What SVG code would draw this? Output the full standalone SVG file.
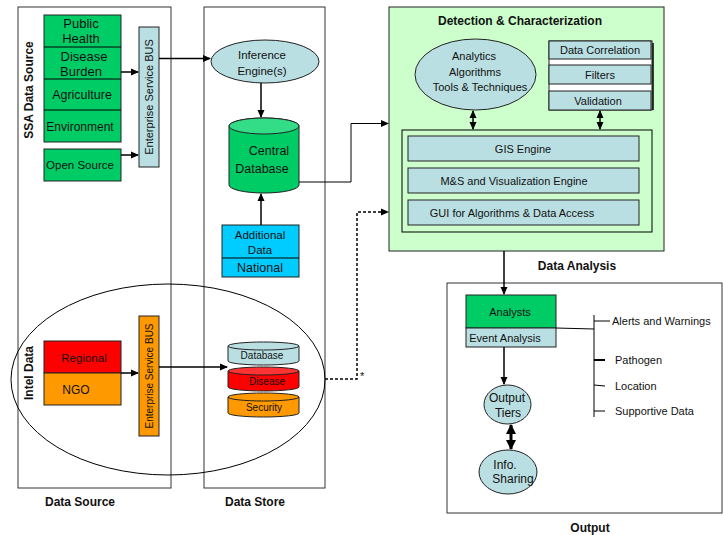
<svg xmlns="http://www.w3.org/2000/svg" width="723" height="535" viewBox="0 0 723 535">
  <style>
    text { font-family: "Liberation Sans", Arial, sans-serif; fill: #111; }
    .c { text-anchor: middle; }
    .b { font-weight: bold; }
    .frame { fill: none; stroke: #333; stroke-width: 1; }
    .box { stroke: #222; stroke-width: 1; }
    .green { fill: #00cc66; }
    .pale { fill: #b9dfe2; }
    .line { fill: none; stroke: #000; stroke-width: 1.5; }
    .thin { fill: none; stroke: #000; stroke-width: 1; }
  </style>
  <defs>
    <marker id="arr" markerWidth="8" markerHeight="8" refX="7" refY="4" orient="auto" markerUnits="userSpaceOnUse">
      <path d="M0,0.5 L8,4 L0,7.5 z" fill="#000"/>
    </marker>
    <marker id="arrs" markerWidth="8" markerHeight="8" refX="7" refY="4" orient="auto-start-reverse" markerUnits="userSpaceOnUse">
      <path d="M0,0.5 L8,4 L0,7.5 z" fill="#000"/>
    </marker>
    <marker id="arrb" markerWidth="10" markerHeight="10" refX="9" refY="5" orient="auto-start-reverse" markerUnits="userSpaceOnUse">
      <path d="M0,0 L10,5 L0,10 z" fill="#000"/>
    </marker>
  </defs>
  <rect width="723" height="535" fill="#fff"/>

  <!-- column frames -->
  <g id="data-source-frame">
    <rect class="frame" x="18" y="7" width="153" height="481"/>
    <text class="b" x="0" y="0" font-size="12" transform="translate(33,90) rotate(-90)" text-anchor="middle">SSA Data Source</text>
    <text class="c b" x="80" y="506" font-size="12">Data Source</text>
  </g>
  <g id="data-store-frame">
    <rect class="frame" x="204" y="7" width="121" height="481"/>
    <text class="c b" x="255" y="506" font-size="12">Data Store</text>
  </g>

  <!-- SSA sources -->
  <g id="ssa-sources">
    <rect class="box green" x="44" y="15" width="77" height="127"/>
    <line class="thin" x1="44" y1="47" x2="121" y2="47"/>
    <line class="thin" x1="44" y1="79" x2="121" y2="79"/>
    <line class="thin" x1="44" y1="110" x2="121" y2="110"/>
    <text class="c" x="81" y="28" font-size="13">Public</text>
    <text class="c" x="81" y="43" font-size="13">Health</text>
    <text class="c" x="84" y="61" font-size="13">Disease</text>
    <text class="c" x="81" y="76" font-size="13">Burden</text>
    <text class="c" x="82" y="99" font-size="12.5">Agriculture</text>
    <text class="c" x="80" y="131" font-size="12">Environment</text>
  </g>
  <g id="open-source">
    <rect class="box green" x="44" y="149" width="77" height="32"/>
    <text class="c" x="80" y="169" font-size="11.5">Open Source</text>
  </g>
  <g id="esb-ssa">
    <rect class="box pale" x="139" y="27" width="20" height="140"/>
    <text x="0" y="0" font-size="11" transform="translate(153,97) rotate(-90)" text-anchor="middle">Enterprise Service BUS</text>
  </g>

  <!-- Intel data -->
  <g id="intel-data">
    <ellipse class="thin" cx="168" cy="379.5" rx="157" ry="95.5"/>
    <text class="b" x="0" y="0" font-size="12" transform="translate(33,373) rotate(-90)" text-anchor="middle">Intel Data</text>
  </g>
  <g id="regional">
    <rect class="box" x="44" y="341" width="77" height="32" fill="#ff0000"/>
    <text class="c" x="84" y="362" font-size="11.5">Regional</text>
  </g>
  <g id="ngo">
    <rect class="box" x="44" y="373" width="77" height="32" fill="#ff9900"/>
    <text class="c" x="76" y="394" font-size="12">NGO</text>
  </g>
  <g id="esb-intel">
    <rect class="box" x="139" y="316" width="20" height="120" fill="#ff9900"/>
    <text x="0" y="0" font-size="10" transform="translate(152.5,376) rotate(-90)" text-anchor="middle">Enterprise Service BUS</text>
  </g>

  <!-- Data store -->
  <g id="inference-engine">
    <ellipse class="box pale" cx="265" cy="61.5" rx="54" ry="21.5"/>
    <text class="c" x="262" y="59" font-size="11.5">Inference</text>
    <text class="c" x="262" y="75" font-size="11.5">Engine(s)</text>
  </g>
  <g id="central-database">
    <path class="box" fill="#00cc66" d="M229,126 L229,185 A35,8 0 0 0 299,185 L299,126 A35,8 0 0 0 229,126 Z"/>
    <ellipse class="box" cx="264" cy="126" rx="35" ry="8" fill="#33dd88"/>
    <text class="c" x="269" y="155" font-size="12.5">Central</text>
    <text class="c" x="262" y="173" font-size="12.5">Database</text>
  </g>
  <g id="additional-data">
    <rect class="box" x="222" y="225" width="77" height="52" fill="#00ccff"/>
    <line class="thin" x1="222" y1="258" x2="299" y2="258"/>
    <text class="c" x="260" y="239" font-size="11.5">Additional</text>
    <text class="c" x="260" y="254" font-size="11.5">Data</text>
    <text class="c" x="260" y="272" font-size="12.5">National</text>
  </g>
  <g id="intel-store">
    <path class="box" fill="#ff9900" d="M228,397 L228,413 A35.5,4 0 0 0 299,413 L299,397 Z"/>
    <ellipse class="box" cx="263.5" cy="397" rx="35.5" ry="4" fill="#ff9900"/>
    <text class="c" x="264" y="411" font-size="10">Security</text>
    <path class="box" fill="#ff0000" d="M228,371 L228,387 A35.5,4 0 0 0 299,387 L299,371 Z"/>
    <ellipse class="box" cx="263.5" cy="371" rx="35.5" ry="4" fill="#ff3333"/>
    <text class="c" x="267" y="385" font-size="10">Disease</text>
    <path class="box pale" d="M228,346 L228,361 A35.5,4 0 0 0 299,361 L299,346 Z"/>
    <ellipse class="box pale" cx="263.5" cy="346" rx="35.5" ry="4"/>
    <text class="c" x="262" y="359" font-size="10">Database</text>
  </g>

  <!-- Detection & characterization -->
  <g id="detection">
    <rect class="box" x="389" y="7" width="275" height="244" fill="#ccffcc"/>
    <text class="c b" x="520" y="25" font-size="12">Detection &amp; Characterization</text>
    <text class="c b" x="577" y="270" font-size="12">Data Analysis</text>
  </g>
  <g id="analytics">
    <ellipse class="box pale" cx="475.5" cy="74.5" rx="60.5" ry="35.5"/>
    <text class="c" x="474" y="60" font-size="11">Analytics</text>
    <text class="c" x="475" y="76" font-size="11">Algorithms</text>
    <text class="c" x="480" y="91" font-size="11">Tools &amp; Techniques</text>
  </g>
  <g id="correlation-stack">
    <rect x="549" y="41" width="103" height="69" fill="#fff" stroke="#222" stroke-width="1"/>
    <line x1="653" y1="43" x2="653" y2="110" stroke="#000" stroke-width="1.5"/>
    <rect class="box pale" x="549" y="41" width="102" height="18"/>
    <text class="c" x="600" y="54" font-size="11">Data Correlation</text>
    <rect class="box pale" x="549" y="65" width="102" height="19"/>
    <text class="c" x="600" y="79" font-size="11">Filters</text>
    <rect class="box pale" x="549" y="91" width="102" height="19"/>
    <text class="c" x="598" y="105" font-size="11">Validation</text>
  </g>
  <g id="engines">
    <rect class="thin" x="402" y="130" width="250" height="102" stroke="#222"/>
    <rect class="box pale" x="408" y="136" width="231" height="25"/>
    <text class="c" x="523" y="153" font-size="11">GIS Engine</text>
    <rect class="box pale" x="408" y="168" width="231" height="25"/>
    <text class="c" x="514" y="185" font-size="11">M&amp;S and Visualization Engine</text>
    <rect class="box pale" x="408" y="200" width="231" height="25"/>
    <text class="c" x="512" y="217" font-size="11">GUI for Algorithms &amp; Data Access</text>
  </g>

  <!-- Output -->
  <g id="output-frame">
    <rect class="frame" x="447" y="283" width="275" height="230"/>
    <text class="c b" x="590" y="532" font-size="12">Output</text>
  </g>
  <g id="analysts">
    <rect class="box" x="466" y="295" width="90" height="33" fill="#00cc66"/>
    <text class="c" x="510" y="316" font-size="11">Analysts</text>
    <rect class="box pale" x="466" y="328" width="90" height="19"/>
    <text class="c" x="505" y="342" font-size="11">Event Analysis</text>
  </g>
  <g id="output-list">
    <line class="thin" x1="594" y1="315" x2="594" y2="417"/>
    <line class="thin" x1="594" y1="321" x2="610" y2="321"/>
    <line x1="594" y1="360" x2="605" y2="360" stroke="#000" stroke-width="2"/>
    <line class="thin" x1="594" y1="385" x2="605" y2="386"/>
    <line class="thin" x1="594" y1="411" x2="605" y2="411"/>
    <text x="612" y="325" font-size="11">Alerts and Warnings</text>
    <text x="615" y="364" font-size="11">Pathogen</text>
    <text x="615" y="390" font-size="11">Location</text>
    <text x="615" y="415" font-size="11">Supportive Data</text>
  </g>
  <g id="output-tiers">
    <ellipse class="box pale" cx="507.5" cy="404.5" rx="23.5" ry="19.5"/>
    <text class="c" x="507" y="402" font-size="12">Output</text>
    <text class="c" x="508" y="417" font-size="12">Tiers</text>
  </g>
  <g id="info-sharing">
    <ellipse class="box pale" cx="508" cy="472" rx="29" ry="22"/>
    <text class="c" x="505" y="469" font-size="12">Info.</text>
    <text class="c" x="513" y="483" font-size="12">Sharing</text>
  </g>

  <!-- connectors -->
  <g id="connectors">
    <line class="line" x1="121" y1="72" x2="138" y2="72" marker-end="url(#arr)"/>
    <line class="line" x1="121" y1="155" x2="138" y2="155" marker-end="url(#arr)"/>
    <line class="line" x1="159" y1="58.5" x2="210" y2="58.5" marker-end="url(#arr)"/>
    <line class="line" x1="261" y1="83" x2="261" y2="117" marker-end="url(#arr)"/>
    <line class="line" x1="261" y1="225" x2="261" y2="194" marker-end="url(#arr)"/>
    <polyline class="thin" points="299,182 351,182 351,123.5 388,123.5" marker-end="url(#arr)"/>
    <polyline fill="none" stroke="#000" stroke-width="1.5" stroke-dasharray="3,2" points="325,379 357,379 357,212 388,212" marker-end="url(#arr)"/>
    <text x="360" y="380" font-size="11">*</text>
    <line class="line" x1="121" y1="373" x2="138" y2="373" marker-end="url(#arr)"/>
    <line class="line" x1="159" y1="367" x2="227" y2="367" marker-end="url(#arr)"/>
    <line class="line" x1="473" y1="111" x2="473" y2="129" marker-start="url(#arrs)" marker-end="url(#arrs)"/>
    <line class="line" x1="600" y1="111" x2="600" y2="129" marker-start="url(#arrs)" marker-end="url(#arrs)"/>
    <line class="line" x1="504" y1="251" x2="504" y2="294" marker-end="url(#arr)"/>
    <line class="line" x1="504" y1="347" x2="504" y2="384" marker-end="url(#arr)"/>
    <line x1="511" y1="425" x2="511" y2="449" stroke="#000" stroke-width="3" marker-start="url(#arrb)" marker-end="url(#arrb)"/>
    <line class="thin" x1="556" y1="328" x2="594" y2="329"/>
  </g>
</svg>
